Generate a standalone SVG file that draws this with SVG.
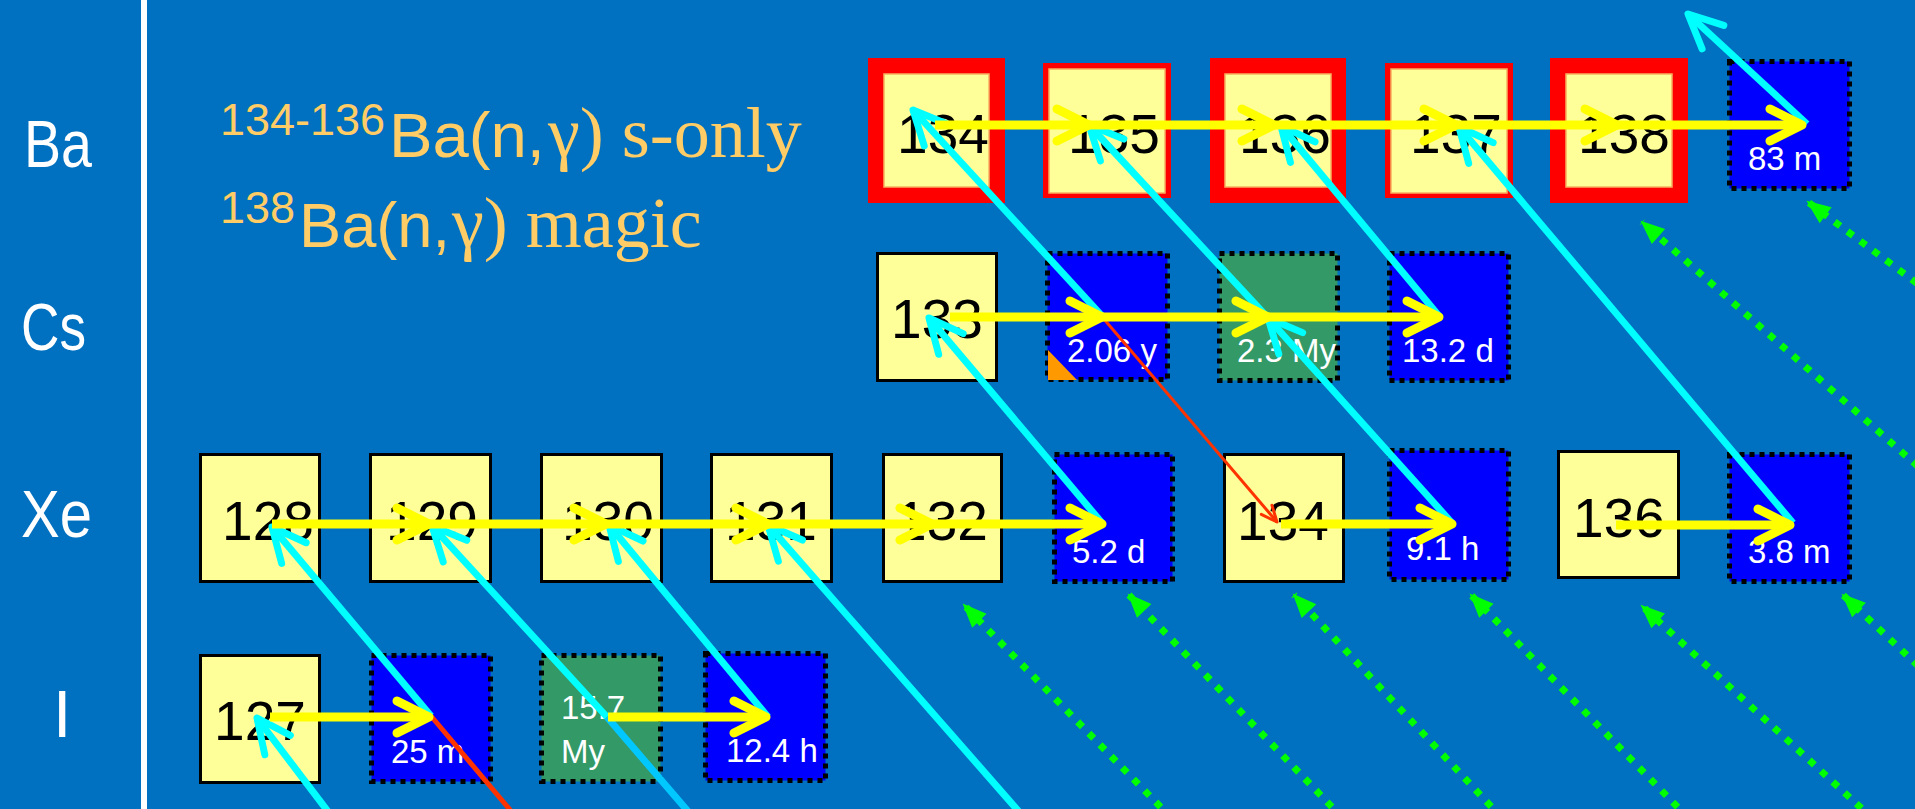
<svg xmlns="http://www.w3.org/2000/svg" width="1915" height="809" viewBox="0 0 1915 809">
<style>
.yb{fill:#FFFF99;stroke:#000;stroke-width:3}
.bb{fill:#0000FF;stroke:#000;stroke-width:5;stroke-dasharray:5 5}
.gb{fill:#339966;stroke:#000;stroke-width:5;stroke-dasharray:5 5}
.rb{fill:#FF0000}
.ri{fill:#FFFF99;stroke:#F7B060;stroke-width:1.5}
.num{font-family:"Liberation Sans",Arial,sans-serif;font-size:55px;fill:#000;text-anchor:middle}
.lbl{font-family:"Liberation Sans",Arial,sans-serif;font-size:33px;fill:#FFF}
.row{font-family:"Liberation Sans",Arial,sans-serif;font-size:66px;fill:#FFF}
.ts{font-family:"Liberation Sans",Arial,sans-serif;fill:#FFCC66}
.tr{font-family:"Liberation Serif","Times New Roman",serif;fill:#FFCC66;font-size:72px}
.ye{fill:none;stroke:#FFFF00;stroke-width:9;marker-end:url(#ah-y)}
.cy{fill:none;stroke:#00FFFF;stroke-width:7;marker-end:url(#ah-c)}
.gr{fill:none;stroke:#00FF00;stroke-width:7;stroke-dasharray:7 9;marker-end:url(#ah-g)}
</style>
<defs>
<marker id="ah-y" markerUnits="userSpaceOnUse" orient="auto" overflow="visible" markerWidth="1" markerHeight="1" refX="0" refY="0">
<path d="M-32,-16 L0,0 L-32,16" fill="none" stroke="#FFFF00" stroke-width="9" stroke-linecap="round" stroke-linejoin="round"/>
</marker>
<marker id="ah-c" markerUnits="userSpaceOnUse" orient="auto" overflow="visible" markerWidth="1" markerHeight="1" refX="0" refY="0">
<path d="M-34,-16 L0,0 L-34,16" fill="none" stroke="#00FFFF" stroke-width="7" stroke-linecap="round" stroke-linejoin="round"/>
</marker>
<marker id="ah-r" markerUnits="userSpaceOnUse" orient="auto" overflow="visible" markerWidth="1" markerHeight="1" refX="0" refY="0">
<path d="M-16,-7 L0,0 L-16,7" fill="none" stroke="#FF3300" stroke-width="3" stroke-linecap="round" stroke-linejoin="round"/>
</marker>
<marker id="ah-g" markerUnits="userSpaceOnUse" orient="auto" overflow="visible" markerWidth="1" markerHeight="1" refX="0" refY="0">
<path d="M2,0 L-22,-10 L-22,10 Z" fill="#00FF00"/>
</marker>
</defs>
<rect x="0" y="0" width="1915" height="809" fill="#0070C0"/>
<rect x="141" y="0" width="6" height="809" fill="#FFFFFF"/>

<g id="row-labels">
<text class="row" x="24" y="167" textLength="68" lengthAdjust="spacingAndGlyphs">Ba</text>
<text class="row" x="21" y="350" textLength="65" lengthAdjust="spacingAndGlyphs">Cs</text>
<text class="row" x="21" y="537" textLength="71" lengthAdjust="spacingAndGlyphs">Xe</text>
<text class="row" x="53" y="737">I</text>
</g>

<g id="title">
<text class="ts" x="220" y="135" font-size="45">134-136</text>
<text class="ts" x="389" y="157" font-size="63" textLength="156" lengthAdjust="spacingAndGlyphs">Ba(n,</text>
<text class="tr" x="548" y="157">γ) s-only</text>
<text class="ts" x="220" y="223" font-size="45">138</text>
<text class="ts" x="299" y="247" font-size="63" textLength="151" lengthAdjust="spacingAndGlyphs">Ba(n,</text>
<text class="tr" x="452" y="247">γ) magic</text>
</g>

<!-- Ba row -->
<g id="ba134"><rect class="rb" x="868" y="58" width="137" height="145"/><rect class="ri" x="884" y="74" width="105" height="113"/><text class="num" x="943" y="153">134</text></g>
<g id="ba135"><rect class="rb" x="1043" y="63" width="128" height="135"/><rect class="ri" x="1049" y="69" width="116" height="124"/><text class="num" x="1114" y="153">135</text></g>
<g id="ba136"><rect class="rb" x="1210" y="58" width="136" height="145"/><rect class="ri" x="1225" y="74" width="106" height="113"/><text class="num" x="1285" y="153">136</text></g>
<g id="ba137"><rect class="rb" x="1385" y="63" width="128" height="135"/><rect class="ri" x="1391" y="69" width="116" height="124"/><text class="num" x="1456" y="153">137</text></g>
<g id="ba138"><rect class="rb" x="1550" y="58" width="138" height="145"/><rect class="ri" x="1566" y="74" width="106" height="113"/><text class="num" x="1624" y="153">138</text></g>
<g id="ba139"><rect class="bb" x="1729.5" y="61.5" width="120" height="127"/><text class="lbl" x="1748" y="170">83 m</text></g>

<!-- Cs row -->
<g id="cs133"><rect class="yb" x="877.5" y="253.5" width="119" height="127"/><text class="num" x="937" y="338">133</text></g>
<g id="cs134"><rect class="bb" x="1047.5" y="253.5" width="120" height="126"/><path d="M1048,350 L1048,380 L1077,380 Z" fill="#FF9900"/><text class="lbl" x="1067" y="362">2.06 y</text></g>
<g id="cs135"><rect class="gb" x="1219.5" y="253.5" width="118" height="127"/><text class="lbl" x="1237" y="362">2.3 My</text></g>
<g id="cs136"><rect class="bb" x="1389.5" y="253.5" width="119" height="127"/><text class="lbl" x="1402" y="362">13.2 d</text></g>

<!-- Xe row -->
<g id="xe128"><rect class="yb" x="200.5" y="454.5" width="119" height="127"/><text class="num" x="268" y="540">128</text></g>
<g id="xe129"><rect class="yb" x="370.5" y="454.5" width="120" height="127"/><text class="num" x="432" y="540">129</text></g>
<g id="xe130"><rect class="yb" x="541.5" y="454.5" width="120" height="127"/><text class="num" x="608" y="540">130</text></g>
<g id="xe131"><rect class="yb" x="711.5" y="454.5" width="120" height="127"/><text class="num" x="771" y="540">131</text></g>
<g id="xe132"><rect class="yb" x="883.5" y="454.5" width="118" height="127"/><text class="num" x="942" y="540">132</text></g>
<g id="xe133"><rect class="bb" x="1054.5" y="454.5" width="118" height="127"/><text class="lbl" x="1072" y="563">5.2 d</text></g>
<g id="xe134"><rect class="yb" x="1224.5" y="454.5" width="119" height="127"/><text class="num" x="1283" y="540">134</text></g>
<g id="xe135"><rect class="bb" x="1389.5" y="450.5" width="119" height="129"/><text class="lbl" x="1406" y="560">9.1 h</text></g>
<g id="xe136"><rect class="yb" x="1558.5" y="451.5" width="120" height="126"/><text class="num" x="1619" y="537">136</text></g>
<g id="xe137"><rect class="bb" x="1729.5" y="454.5" width="120" height="127"/><text class="lbl" x="1748" y="563">3.8 m</text></g>

<!-- I row -->
<g id="i127"><rect class="yb" x="200.5" y="655.5" width="119" height="127"/><text class="num" x="260" y="740">127</text></g>
<g id="i128"><rect class="bb" x="371.5" y="655.5" width="119" height="126"/><text class="lbl" x="391" y="763">25 m</text></g>
<g id="i129"><rect class="gb" x="541.5" y="655.5" width="119" height="126"/><text class="lbl" x="561" y="719">15.7</text><text class="lbl" x="561" y="763">My</text></g>
<g id="i130"><rect class="bb" x="705.5" y="653.5" width="120" height="127"/><text class="lbl" x="726" y="762">12.4 h</text></g>

<g id="connectors">
<!-- red -->
<path d="M431,716 L527,830" fill="none" stroke="#FF3300" stroke-width="5"/>
<path d="M1103,318 L1277,522" fill="none" stroke="#FF3300" stroke-width="3" marker-end="url(#ah-r)"/>
<!-- cyan beta decays -->
<path d="M704,830 L607,717" fill="none" stroke="#00C8FF" stroke-width="7"/>
<path class="cy" d="M1103,317 L913,110"/>
<path class="cy" d="M1268,318 L1089,125"/>
<path class="cy" d="M1452,523 L1268,318"/>
<path class="cy" d="M1439,316 L1281,126"/>
<path class="cy" d="M1793,523 L1459,127"/>
<path class="cy" d="M1807,124 L1688,14"/>
<path class="cy" d="M1102,523 L929,318"/>
<path class="cy" d="M431,716 L272,527"/>
<path class="cy" d="M607,717 L432,526"/>
<path class="cy" d="M768,717 L609,525"/>
<path class="cy" d="M1035,830 L768,525"/>
<path class="cy" d="M342,830 L257,718"/>
<!-- yellow neutron captures -->
<path class="ye" d="M935,125 L1089,125"/>
<path class="ye" d="M1089,125 L1274,125"/>
<path class="ye" d="M1274,125 L1456,125"/>
<path class="ye" d="M1456,125 L1617,125"/>
<path class="ye" d="M1617,125 L1802,125"/>
<path class="ye" d="M950,317 L1102,317"/>
<path class="ye" d="M1102,317 L1268,317"/>
<path class="ye" d="M1268,317 L1439,317"/>
<path class="ye" d="M272,524 L429,524"/>
<path class="ye" d="M429,524 L606,524"/>
<path class="ye" d="M606,524 L768,524"/>
<path class="ye" d="M768,524 L932,524"/>
<path class="ye" d="M932,524 L1102,524"/>
<path class="ye" d="M1281,524 L1452,524"/>
<path class="ye" d="M1616,525 L1790,525"/>
<path class="ye" d="M270,717 L429,717"/>
<path class="ye" d="M608,717 L766,717"/>
<!-- green dotted -->
<path class="gr" d="M1183,830 L964,605"/>
<path class="gr" d="M1354,830 L1129,595"/>
<path class="gr" d="M1513,830 L1294,595"/>
<path class="gr" d="M1700,830 L1471,595"/>
<path class="gr" d="M1885,830 L1642,606"/>
<path class="gr" d="M1930,677 L1843,595"/>
<path class="gr" d="M1930,477 L1642,222"/>
<path class="gr" d="M1930,293 L1808,202"/>
</g>
</svg>
